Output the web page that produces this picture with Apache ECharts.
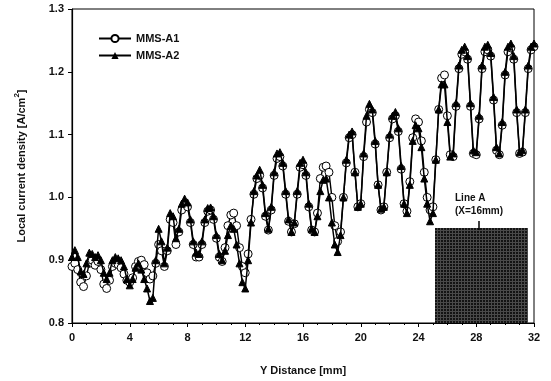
<!DOCTYPE html>
<html><head><meta charset="utf-8">
<script src="https://cdn.jsdelivr.net/npm/echarts@6/dist/echarts.min.js"></script>
<style>html,body{margin:0;padding:0;background:#fff}#c{width:551px;height:381px}</style>
</head><body><div id="c"></div>
<script>
// sampling grid along Y Distance (mm)
var xStart = 0, xStep = 0.2;
var xTicks = [0, 4, 8, 12, 16, 20, 24, 28, 32];
var yTicks = [0.8, 0.9, 1.0, 1.1, 1.2, 1.3];
var seriesNames = ['MMS-A1', 'MMS-A2'];
var mmsA1 = [
0.890,0.895,0.885,0.865,0.858,0.875,0.895,0.900,0.892,0.898,
0.885,0.862,0.855,0.868,0.890,0.895,0.893,0.888,0.878,0.868,
0.865,0.872,0.890,0.898,0.900,0.893,0.880,0.870,0.875,0.895,
0.925,0.915,0.890,0.915,0.965,0.960,0.925,0.945,0.980,0.990,
0.985,0.960,0.925,0.905,0.905,0.925,0.960,0.978,0.980,0.965,
0.935,0.905,0.898,0.920,0.955,0.972,0.975,0.955,0.920,0.890,
0.880,0.910,0.965,1.005,1.030,1.035,1.015,0.970,0.948,0.980,
1.035,1.062,1.065,1.050,1.005,0.962,0.945,0.958,1.005,1.048,
1.052,1.035,0.985,0.948,0.945,0.975,1.030,1.048,1.050,1.040,
1.000,0.955,0.930,0.945,1.000,1.055,1.095,1.100,1.040,0.985,
0.990,1.065,1.120,1.140,1.135,1.085,1.020,0.980,0.985,1.040,
1.095,1.125,1.130,1.105,1.045,0.990,0.978,1.025,1.095,1.125,
1.120,1.090,1.040,1.000,0.980,0.985,1.060,1.140,1.190,1.195,
1.130,1.068,1.065,1.145,1.205,1.228,1.232,1.220,1.145,1.070,
1.068,1.125,1.205,1.232,1.235,1.225,1.155,1.075,1.068,1.115,
1.195,1.232,1.238,1.220,1.135,1.070,1.072,1.135,1.205,1.235,
1.240];
var mmsA2 = [
0.905,0.916,0.905,0.882,0.878,0.895,0.912,0.910,0.905,0.908,
0.900,0.880,0.870,0.880,0.900,0.905,0.903,0.900,0.890,0.870,
0.860,0.870,0.888,0.895,0.885,0.870,0.855,0.835,0.840,0.900,
0.950,0.930,0.895,0.920,0.975,0.970,0.935,0.950,0.990,0.998,
0.992,0.965,0.930,0.912,0.910,0.930,0.965,0.983,0.984,0.970,
0.940,0.910,0.900,0.915,0.940,0.955,0.950,0.925,0.895,0.865,
0.855,0.900,0.960,1.010,1.035,1.044,1.020,0.975,0.950,0.985,
1.040,1.070,1.072,1.055,1.010,0.965,0.945,0.960,1.010,1.055,
1.060,1.040,0.990,0.950,0.945,0.970,1.010,1.028,1.030,1.000,
0.960,0.925,0.913,0.940,1.000,1.060,1.100,1.105,1.040,0.985,
0.990,1.070,1.130,1.149,1.140,1.090,1.020,0.982,0.985,1.040,
1.100,1.130,1.136,1.110,1.050,0.990,0.975,1.020,1.090,1.115,
1.110,1.080,1.030,0.990,0.962,0.975,1.060,1.140,1.180,1.180,
1.120,1.065,1.070,1.150,1.210,1.235,1.240,1.225,1.150,1.075,
1.072,1.130,1.210,1.240,1.243,1.230,1.160,1.080,1.070,1.120,
1.200,1.240,1.245,1.225,1.140,1.072,1.075,1.140,1.210,1.240,
1.245];

function pairs(vals){ return vals.map(function(v,i){ return [+(xStart + i*xStep).toFixed(2), v]; }); }

// halftone-like texture for the inset rectangle
var pc = document.createElement('canvas'); pc.width = 3; pc.height = 3;
var pctx = pc.getContext('2d');
pctx.fillStyle = '#141414'; pctx.fillRect(0,0,3,3);
pctx.fillStyle = '#4a4a4a'; pctx.fillRect(2,0,1,3); pctx.fillRect(0,2,3,1);

var font = 'Liberation Sans, Arial, sans-serif';
var chart = echarts.init(document.getElementById('c'), null, {renderer:'canvas'});
chart.setOption({
  animation: false,
  backgroundColor: '#fff',
  grid: {left: 72, right: 17, top: 9, bottom: 54, show: true, borderColor: '#000', borderWidth: 1},
  legend: {
    left: 93, top: 28, orient: 'vertical', itemWidth: 32, itemHeight: 9, itemGap: 6,
    data: seriesNames,
    textStyle: {fontFamily: font, fontWeight: 'bold', fontSize: 11, color: '#111'}
  },
  xAxis: {
    type: 'value', min: xTicks[0], max: xTicks[xTicks.length-1], interval: 4,
    name: 'Y Distance [mm]', nameLocation: 'middle', nameGap: 42,
    nameTextStyle: {fontFamily: font, fontWeight: 'bold', fontSize: 11, color: '#111'},
    axisLine: {lineStyle: {color: '#000', width: 1.2}},
    axisTick: {show: true, inside: false, length: 4, lineStyle: {color: '#000'}},
    minorTick: {show: true, splitNumber: 4, length: 2, lineStyle: {color: '#000'}},
    splitLine: {show: false},
    axisLabel: {fontFamily: font, fontWeight: 'bold', fontSize: 11, color: '#111', margin: 9}
  },
  yAxis: {
    type: 'value', min: yTicks[0], max: yTicks[yTicks.length-1], interval: 0.1,
    name: 'Local current density [A/cm{sup|2}]', nameLocation: 'middle', nameGap: 42,
    nameTextStyle: {fontFamily: font, fontWeight: 'bold', fontSize: 11, color: '#111',
      rich: {sup: {fontFamily: font, fontWeight: 'bold', fontSize: 8, color: '#111', padding: [0,0,9,0]}}},
    axisLine: {lineStyle: {color: '#000', width: 1.2}},
    axisTick: {show: true, inside: false, length: 4, lineStyle: {color: '#000'}},
    splitLine: {show: false},
    axisLabel: {fontFamily: font, fontWeight: 'bold', fontSize: 11, color: '#111', margin: 8,
      formatter: function(v){ return v.toFixed(1); }}
  },
  series: [
    {name: seriesNames[0], type: 'line', data: pairs(mmsA1), symbol: 'circle', symbolSize: 8,
     lineStyle: {color: '#000', width: 1.4}, itemStyle: {color: '#fff', borderColor: '#000', borderWidth: 1}, z: 2},
    {name: seriesNames[1], type: 'line', data: pairs(mmsA2), symbol: 'triangle', symbolSize: 7,
     lineStyle: {color: '#000', width: 1.5}, itemStyle: {color: '#000', borderColor: '#000'}, z: 3}
  ],
  graphic: [
    {type: 'rect', left: 435, top: 228, shape: {width: 93, height: 95},
     style: {fill: {image: pc, repeat: 'repeat'}}, z: 10},
    {type: 'line', shape: {x1: 479, y1: 221, x2: 479, y2: 230}, style: {stroke: '#000', lineWidth: 1.5}, z: 10},
    {type: 'text', left: 455, top: 193, style: {text: 'Line A', fontFamily: font, fontWeight: 'bold', fontSize: 10, fill: '#111'}, z: 10},
    {type: 'text', left: 455, top: 206, style: {text: '(X=16mm)', fontFamily: font, fontWeight: 'bold', fontSize: 10, fill: '#111'}, z: 10}
  ]
});
</script></body></html>
